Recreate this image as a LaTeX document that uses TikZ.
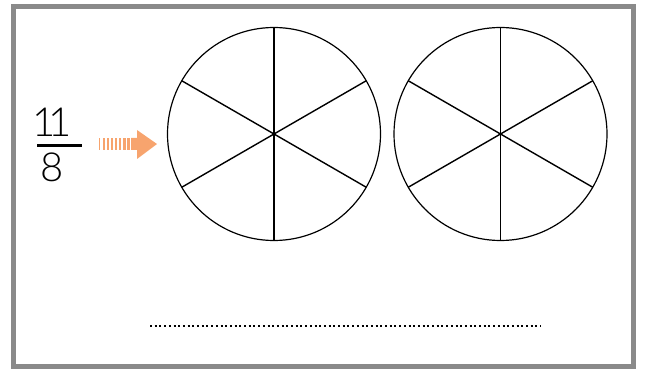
\documentclass[tikz,border=0pt]{standalone}
\usepackage{fontspec}
\newfontfamily\fracfont{Lato}[UprightFont=* Light]
\definecolor{framegray}{RGB}{138,138,138}
\definecolor{arroworange}{RGB}{247,164,110}
\tikzset{
  pie/.style={circle, draw=black, line width=1.2pt, minimum size=213pt, inner sep=0pt, outer sep=0pt},
  spoke/.style={line width=1.4pt},
  digit/.style={inner sep=0pt, font=\fracfont\fontsize{40}{40}\selectfont},
  dotline/.style={line width=2.2pt, dash pattern=on 2pt off 2.7pt}
}
\begin{document}
\begin{tikzpicture}[x=1pt, y=-1pt]
    % parámetros
    \def\cy{134}    % altura de los centros
    \def\ay{144}    % altura de la flecha

    \useasboundingbox (0,0) rectangle (652,371);

    % marco
    \draw[framegray, line width=5pt] (13.5,6.5) rectangle (633.5,366.5);

    %—————— fracción ——————
    \node[digit] (num) at (52,122.5) {1\kern-8pt1};
    \node[digit] (den) at (52.5,167.5) {8};
    \draw[line width=2.5pt] (37,145.5) -- (82,145.5);

    %—————— flecha ——————
    \foreach \i/\w in {0/1.4,1/1.6,2/1.8,3/2.0,4/2.2,5/2.4,6/2.6,7/2.8}
        \fill[arroworange] (99+4*\i,\ay-6) rectangle ++(\w,12);
    \fill[arroworange] (131,\ay-6) -- (137,\ay-6) -- (137,130) -- (157,\ay)
        -- (137,159) -- (137,\ay+6) -- (131,\ay+6) -- cycle;

    %—————— círculos divididos en sextos ——————
    \node[pie] (pieA) at (274,\cy) {};
    \node[pie] (pieB) at (500.5,\cy) {};
    \foreach \p in {pieA,pieB}
        \foreach \a in {30,90,...,330}
            \draw[spoke] (\p.center) -- (\p.\a);

    % línea punteada para la respuesta
    \coordinate (dotL) at (150,326);
    \coordinate (dotR) at (541,326);
    \draw[dotline] (dotL) -- (dotR);
\end{tikzpicture}
\end{document}
